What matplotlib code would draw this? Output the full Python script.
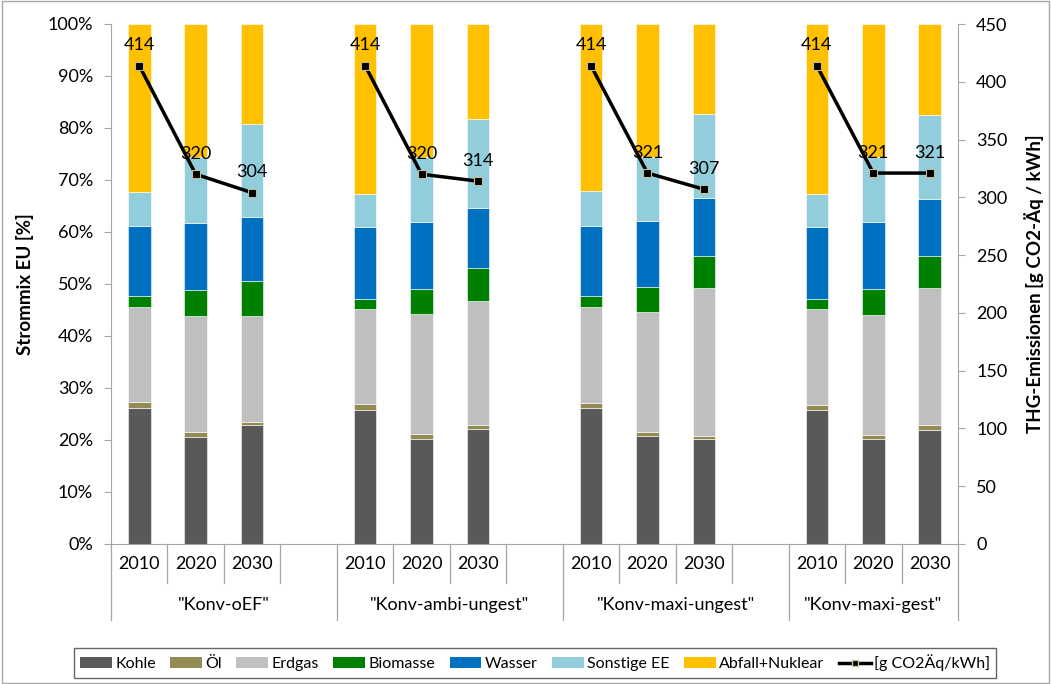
import matplotlib
matplotlib.use("Agg")
import matplotlib.pyplot as plt
from matplotlib.patches import Rectangle, Patch
from matplotlib.lines import Line2D
from matplotlib.transforms import blended_transform_factory

plt.rcParams['font.family'] = ['Lato', 'DejaVu Sans']

groups = ['"Konv-oEF"', '"Konv-ambi-ungest"', '"Konv-maxi-ungest"', '"Konv-maxi-gest"']
years = ['2010', '2020', '2030']
series = ['Kohle', 'Öl', 'Erdgas', 'Biomasse', 'Wasser', 'Sonstige EE', 'Abfall+Nuklear']

# shares in % per bar (order: group1 2010,2020,2030, group2 ..., ...)
kohle    = [26.1, 20.6, 22.9, 25.7, 20.1, 22.2, 26.1, 20.7, 20.1, 25.7, 20.1, 22.0]
oel      = [1.3, 1.0, 0.6, 1.2, 1.0, 0.7, 1.1, 0.9, 0.6, 1.1, 0.9, 0.8]
erdgas   = [18.1, 22.2, 20.3, 18.3, 23.1, 23.8, 18.4, 23.0, 28.6, 18.4, 23.1, 26.4]
biomasse = [2.1, 5.0, 6.8, 2.0, 4.8, 6.4, 2.0, 4.8, 6.1, 2.0, 4.9, 6.1]
wasser   = [13.6, 12.9, 12.3, 13.8, 13.0, 11.6, 13.6, 12.8, 11.1, 13.8, 12.9, 11.1]
sonstige = [6.5, 12.7, 17.8, 6.4, 12.4, 17.0, 6.6, 12.3, 16.1, 6.4, 12.6, 16.1]
abfall   = [32.3, 25.6, 19.3, 32.6, 25.6, 18.3, 32.2, 25.5, 17.4, 32.6, 25.5, 17.5]
emissionen = [414, 320, 304, 414, 320, 314, 414, 321, 307, 414, 321, 321]

colors = ['#595959', '#948A54', '#BFBFBF', '#008000', '#0070C0', '#92CDDC', '#FFC000']
data = [kohle, oel, erdgas, biomasse, wasser, sonstige, abfall]

# slot positions: 3 bars per group, one empty slot between groups
xpos = []
for g in range(len(groups)):
    for j in range(len(years)):
        xpos.append(g * 4 + j)

fig = plt.figure(figsize=(10.51, 6.84), dpi=100)
ax = fig.add_axes([111/1051, 1 - 544/684, (958 - 111)/1051, 520/684])

bottom = [0.0] * len(xpos)
for vals, col in zip(data, colors):
    ax.bar(xpos, vals, width=0.4, bottom=bottom, color=col,
           edgecolor='white', linewidth=0.4, zorder=2)
    bottom = [b + v for b, v in zip(bottom, vals)]

ax.set_xlim(-0.5, 14.5)
ax.set_ylim(0, 100)
ax.set_yticks(range(0, 101, 10))
ax.set_yticklabels([f'{v}%' for v in range(0, 101, 10)], fontsize=13)
ax.set_xticks([])
ax.set_ylabel('Strommix EU [%]', fontsize=13.5, fontweight='bold', labelpad=10)
spine_col = '#A6A6A6'
for s in ['top', 'right']:
    ax.spines[s].set_visible(False)
ax.spines['left'].set_color(spine_col)
ax.spines['bottom'].set_color(spine_col)
ax.tick_params(axis='y', direction='out', length=5, color=spine_col, pad=8)

ax2 = ax.twinx()
ax2.set_ylim(0, 450)
ax2.set_yticks(range(0, 451, 50))
ax2.set_yticklabels([str(v) for v in range(0, 451, 50)], fontsize=13)
for s in ['top', 'left', 'bottom']:
    ax2.spines[s].set_visible(False)
ax2.spines['right'].set_color(spine_col)
ax2.tick_params(axis='y', direction='out', length=5, color=spine_col, pad=8)
ax2.set_ylabel('THG-Emissionen [g CO2-Äq / kWh]', fontsize=13.5, fontweight='bold', labelpad=12)

for g in range(len(groups)):
    xs = xpos[g*3:(g+1)*3]
    ys = emissionen[g*3:(g+1)*3]
    ax2.plot(xs, ys, color='black', linewidth=2.5, marker='s', markersize=6,
             markerfacecolor='black', markeredgecolor='#C4BD97', markeredgewidth=0.8, zorder=5)
    for x, y in zip(xs, ys):
        ax2.annotate(str(y), (x, y), xytext=(0, 9), textcoords='offset points',
                     ha='center', va='bottom', fontsize=13)

# category axis (two-level)
tr = blended_transform_factory(ax.transData, ax.transAxes)
short_y = -39/520
long_y = -76/520
for g in range(len(groups)):
    base = g * 4
    for j, yr in enumerate(years):
        ax.text(base + j, -20/520, yr, transform=tr, ha='center', va='center', fontsize=13)
    ax.text(base + 1.5 if g < 3 else base + 1.0, -61/520, groups[g], transform=tr,
            ha='center', va='center', fontsize=13)
for b in [x - 0.5 for x in range(16)]:
    long = b in (-0.5, 3.5, 7.5, 11.5, 14.5)
    ax.plot([b, b], [0, long_y if long else short_y], transform=tr, color=spine_col,
            linewidth=0.9, clip_on=False)

handles = [Patch(facecolor=c, edgecolor='none') for c in colors]
handles.append(Line2D([0], [0], color='black', linewidth=2.5, marker='s', markersize=5,
                      markerfacecolor='black', markeredgecolor='#C4BD97'))
labels = series + ['[g CO2Äq/kWh]']
leg = fig.legend(handles, labels, loc='center', bbox_to_anchor=(535/1051, 1 - 663/684),
                 ncol=8, fontsize=11.5, frameon=True, fancybox=False, handlelength=2.0,
                 handleheight=0.7, handletextpad=0.2, columnspacing=0.9, borderpad=0.4)
leg.get_frame().set_edgecolor('#404040')
leg.get_frame().set_linewidth(1.0)

fig.patches.append(Rectangle((0.002, 0.002), 0.996, 0.996, transform=fig.transFigure,
                             fill=False, edgecolor='#A6A6A6', linewidth=1))

fig.savefig('out.png', dpi=100)
